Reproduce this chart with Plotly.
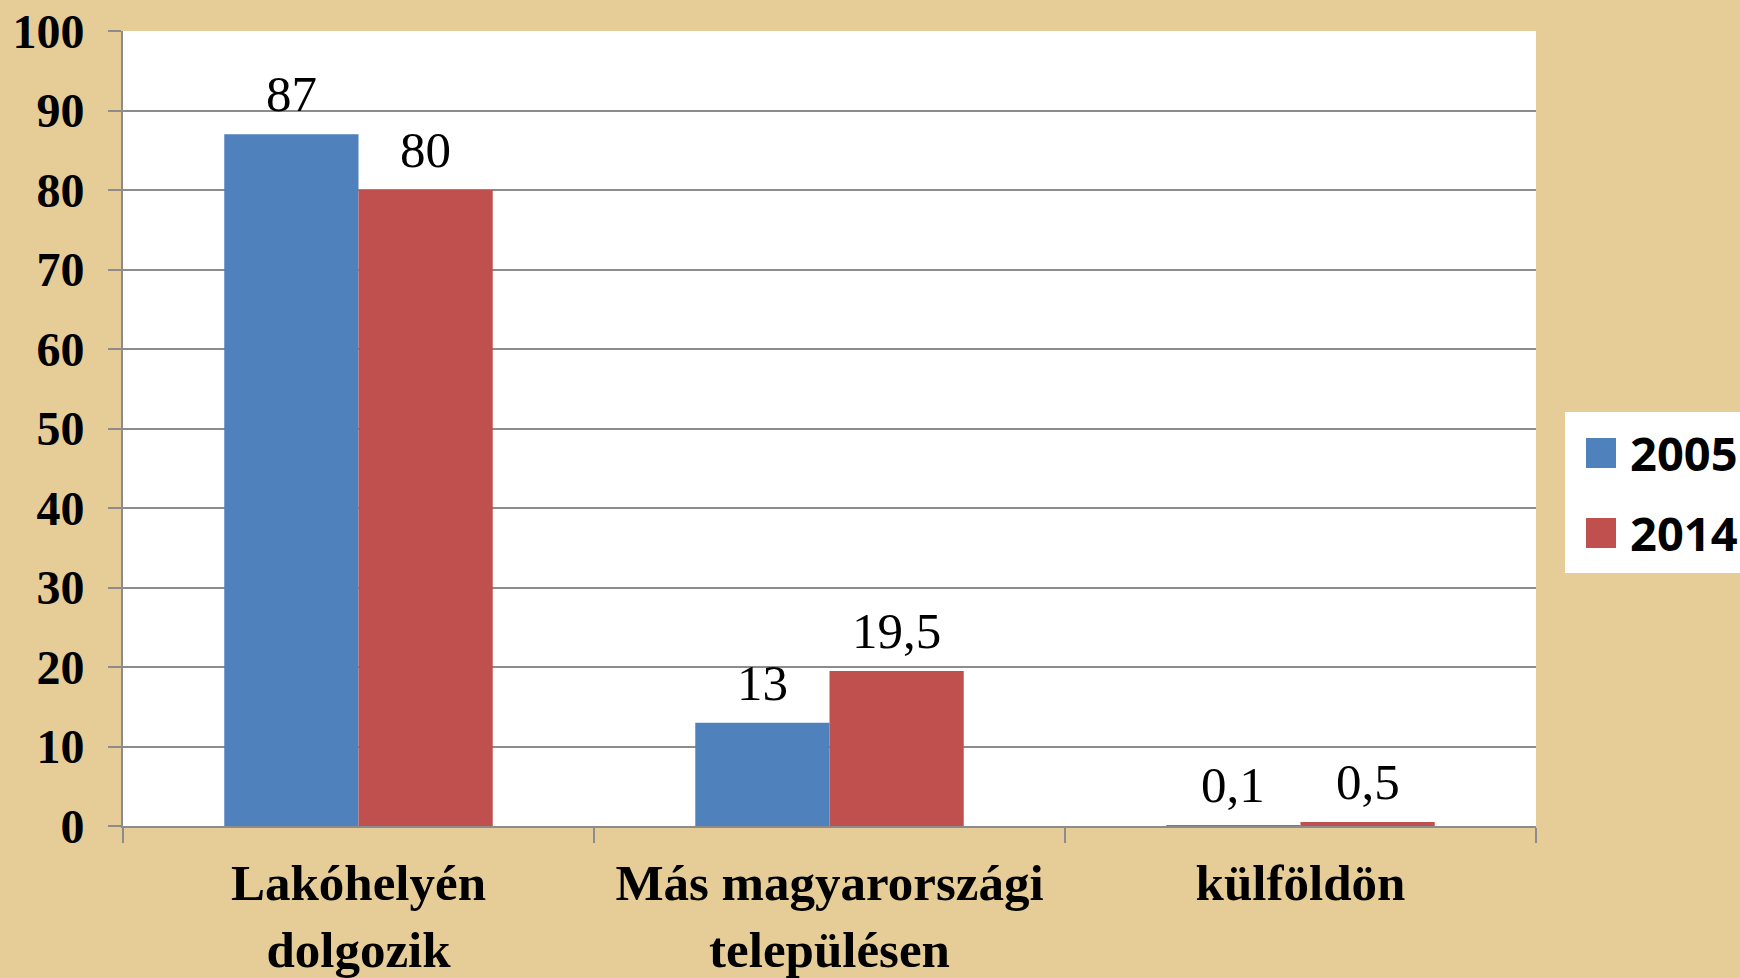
import plotly.graph_objects as go

categories = ["Lakóhelyén<br>dolgozik", "Más magyarországi<br>településen", "külföldön"]
series_names = ["2005", "2014"]
values_2005 = [87, 13, 0.1]
values_2014 = [80, 19.5, 0.5]
y_ticks = [0, 10, 20, 30, 40, 50, 60, 70, 80, 90, 100]

colors = ["#4F81BD", "#C0504D"]

W, H = 1740, 978
L, R, T, B = 123, 204, 31, 152
PW, PH = W - L - R, H - T - B
BARGAP = 0.43
BAR_PX = PW / len(categories) * (1 - BARGAP) / len(series_names)


def px_x(p):
    return (p - L) / PW


def px_y(p):
    return (H - B - p) / PH


def fmt(v):
    return ("%g" % v).replace(".", ",")


fig = go.Figure()
annotations = []
series_vals = [values_2005, values_2014]
for si, (name, vals, col) in enumerate(zip(series_names, series_vals, colors)):
    fig.add_trace(go.Bar(
        x=categories, y=vals, name=name,
        marker=dict(color=col, line=dict(width=0)),
        showlegend=False,
    ))
    shift = (si - (len(series_names) - 1) / 2) * BAR_PX
    for c, v in zip(categories, vals):
        annotations.append(dict(x=c, y=v, xref="x", yref="y", text=fmt(v), showarrow=False,
                                xanchor="center", yanchor="bottom", xshift=shift, yshift=10,
                                font=dict(family="Liberation Serif", size=51, color="black")))

# legend box drawn manually (large square swatches)
shapes = [dict(type="rect", xref="paper", yref="paper",
               x0=px_x(1565), x1=px_x(1760), y0=px_y(573), y1=px_y(412),
               fillcolor="white", line=dict(width=0), layer="above")]
for i, (name, col) in enumerate(zip(series_names, colors)):
    top = 438 + 80 * i
    shapes.append(dict(type="rect", xref="paper", yref="paper",
                       x0=px_x(1586), x1=px_x(1616), y0=px_y(top + 30), y1=px_y(top),
                       fillcolor=col, line=dict(width=0), layer="above"))
    annotations.append(dict(xref="paper", yref="paper", x=px_x(1628), y=px_y(top + 15),
                            xanchor="left", yanchor="middle", showarrow=False, text=name,
                            font=dict(family="Noto Sans", size=47, color="black", weight="bold")))

fig.update_layout(
    width=W, height=H,
    margin=dict(l=L, r=R, t=T, b=B),
    paper_bgcolor="#E6CD98",
    plot_bgcolor="white",
    barmode="group",
    bargap=BARGAP,
    bargroupgap=0,
    showlegend=False,
    shapes=shapes,
    annotations=annotations,
    xaxis=dict(
        type="category", automargin=False,
        tickson="boundaries", ticks="outside", ticklen=15, tickcolor="#8C8C8C", tickwidth=2,
        showline=True, linecolor="#8C8C8C", linewidth=2,
        tickfont=dict(family="Liberation Serif", size=51, color="black", weight="bold"),
        ticklabelstandoff=11,
        showgrid=False,
    ),
    yaxis=dict(
        range=[0, 100], tickvals=y_ticks, automargin=False,
        ticks="outside", ticklen=13, tickcolor="#8C8C8C", tickwidth=2,
        showline=True, linecolor="#8C8C8C", linewidth=2,
        showgrid=True, gridcolor="#8C8C8C", gridwidth=2,
        zeroline=False,
        ticklabelstandoff=14,
        tickfont=dict(family="Liberation Serif", size=48, color="black", weight="bold"),
    ),
)

fig.write_html("out.html", config={"displayModeBar": False},
               post_script="document.body.style.margin='0';")
